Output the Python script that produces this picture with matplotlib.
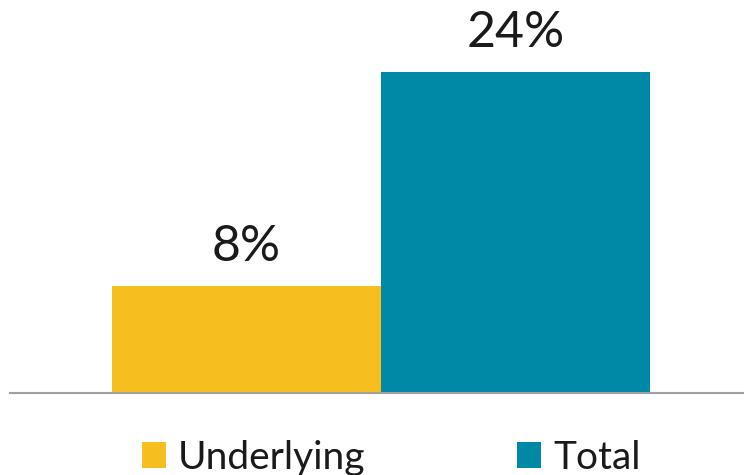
import matplotlib.pyplot as plt

categories = ['Underlying', 'Total']
values = [8, 24]
labels = ['8%', '24%']
colors = ['#F6BE1F', '#0089A7']

plt.rcParams['font.family'] = ['Lato', 'DejaVu Sans']

fig = plt.figure(figsize=(7.44, 4.75), dpi=100)
ax = fig.add_axes([10 / 744, 82 / 475, 734 / 744, 393 / 475])

bars = ax.bar(range(len(values)), values, width=1.0, color=colors, label=categories)
for b, txt in zip(bars, labels):
    ax.text(b.get_x() + b.get_width() / 2, b.get_height() + 1.2, txt,
            ha='center', va='bottom', fontsize=36, color='#1a1a1a')

ax.set_xlim(-0.879, 1.849)
ax.set_ylim(0, 29.4)
for s in ['top', 'right', 'left']:
    ax.spines[s].set_visible(False)
ax.spines['bottom'].set_color('#a0a0a0')
ax.spines['bottom'].set_linewidth(1.5)
ax.set_xticks([])
ax.set_yticks([])

fig.legend(handles=bars, labels=categories, loc='lower center', bbox_to_anchor=(0.526, -0.075),
           ncol=2, frameon=False, fontsize=28, handlelength=0.62, handleheight=0.62,
           handletextpad=0.3, columnspacing=3.9, labelcolor='#1a1a1a')

fig.savefig('out.png', dpi=100)
